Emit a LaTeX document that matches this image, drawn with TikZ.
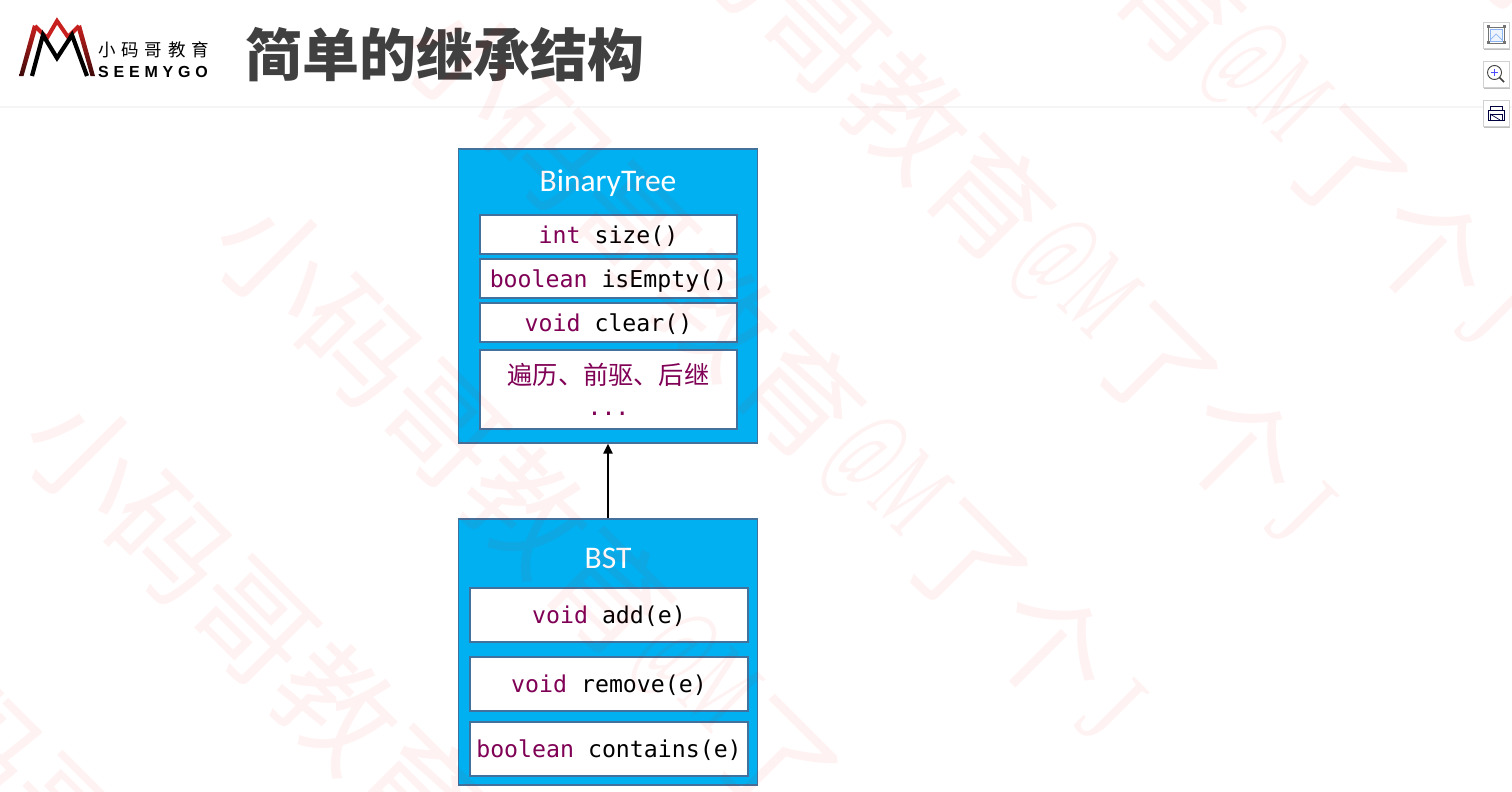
\documentclass[tikz,border=0pt]{standalone}
\usepackage{graphicx}
\usepackage{fontspec}
\usetikzlibrary{arrows.meta}
\setmainfont{Carlito}
\setmonofont{DejaVu Sans Mono}
\newfontfamily\cjk{Noto Sans CJK SC}
\newfontfamily\logocjk[LetterSpace=33]{Noto Sans CJK SC}
\newfontfamily\logolat[LetterSpace=30]{Liberation Sans}
\newfontfamily\wmlat{Liberation Serif}
\definecolor{boxblue}{HTML}{00B0F0}
\definecolor{boxline}{HTML}{41719C}
\definecolor{kwpurple}{HTML}{7F0055}
\definecolor{titlegray}{HTML}{404040}
\definecolor{logored}{HTML}{C8201E}
\definecolor{iconblue}{HTML}{8DB4F2}
\newcommand{\kw}[1]{\textcolor{kwpurple}{#1}}
\newcommand{\wmchar}[3]{\makebox[.5em]{\raisebox{#3}{\scalebox{#1}[1]{\wmlat\fontsize{118}{118}\selectfont #2}}}}
\newcommand{\wmtext}{\fontsize{118}{118}\cjk 小码哥教育\wmchar{.5}{@}{18pt}\wmchar{.5}{M}{16pt}了个\wmchar{.75}{J}{5pt}}
\tikzset{
  outerbox/.style={draw=boxline, fill=boxblue, line width=1.2pt, minimum width=299pt, inner sep=0pt},
  methodbox/.style={draw=boxline, fill=white, line width=1.2pt, inner sep=0pt, font=\ttfamily\fontsize{23.2}{34}\selectfont, align=center},
  linebox/.style={methodbox, text height=20pt, text depth=3pt},
  boxtitle/.style={text=white, inner sep=0pt, font=\fontsize{31.5}{36}\selectfont},
  iconbox/.style={draw=black!18, fill=white, line width=.8pt, minimum size=26pt, inner sep=0pt},
  watermark/.style={anchor=west, rotate=-45, inner sep=0pt, text=red, text opacity=.05},
}
\begin{document}
\begin{tikzpicture}[x=1pt,y=-1pt]
  \useasboundingbox (0,0) rectangle (1512,792);

  % header
  \draw [black!4, line width=2.5pt] (0,107) -- (1512,107);
  \node [inner sep=0pt, text=titlegray] (pageTitle) at (445,55) {\cjk\fontsize{57}{60}\selectfont\bfseries 简单的继承结构};

  % logo
  \draw [logored, line width=4pt, line join=miter] (35,26) -- (47,38) -- (57,21) -- (68,37) -- (79,26);
  \shade [top color=logored, bottom color=black!70!logored] (33,25) -- (37.5,27) -- (23.5,76) -- (19,76) -- cycle;
  \shade [top color=logored, bottom color=black!70!logored] (81,25) -- (76.5,27) -- (90.5,76) -- (95,76) -- cycle;
  \draw [black, line width=4.2pt, line join=miter] (32,76) -- (43,35) -- (57,58) -- (72,35) -- (87,76);
  \node [inner sep=0pt, anchor=west, text=black] (logoCn) at (98,50) {\logocjk\fontsize{17.5}{20}\selectfont 小码哥教育};
  \node [inner sep=0pt, anchor=west, text=black] (logoEn) at (98,72) {\logolat\fontsize{16}{18}\selectfont\bfseries SEEMYGO};

  % side buttons
  \fill [black!25] (1484,24) rectangle (1510,50);
  \fill [black!25] (1484,63) rectangle (1510,89);
  \fill [black!25] (1484,102) rectangle (1510,128);
  \node [iconbox] (fitButton) at (1496,35) {};
  \node [iconbox] (zoomButton) at (1496,74) {};
  \node [iconbox] (printButton) at (1496,113) {};
  \draw [black!55, line width=.8pt] (1488,27) rectangle (1504,43);
  \foreach \px/\py in {1488/27, 1504/27, 1488/43, 1504/43} \fill [black!55] (\px-1.5,\py-1.5) rectangle (\px+1.5,\py+1.5);
  \draw [iconblue, line width=.8pt, fill=iconblue!15] (1490,29) rectangle (1502,41);
  \draw [iconblue, line width=.7pt] (1490,40) -- (1496,34) -- (1502,40);
  \draw [black!75, line width=.9pt] (1494.5,72.5) circle (7);
  \draw [black!75, line width=1.6pt] (1499.5,77.5) -- (1504,82);
  \draw [blue!70!white, line width=.9pt] (1491,72.5) -- (1498,72.5) (1494.5,69) -- (1494.5,76);
  \draw [black!75!blue, line width=1pt] (1490,111) rectangle (1502,106);
  \draw [black!75!blue, line width=1pt, fill=white] (1488,110) rectangle (1504,120);
  \draw [black!75!blue, line width=.8pt] (1490,114) rectangle (1502,120);
  \draw [black!75!blue, line width=.7pt] (1490,114) -- (1500,120);

  % BinaryTree
  \node [outerbox, minimum height=294pt] (treeBox) at (608,296) {};
  \node [boxtitle] (treeTitle) at (608,183) {BinaryTree};
  \node [linebox, minimum width=257pt, minimum height=39pt] (sizeBox) at (608.5,234.5) {\kw{int} size()};
  \node [linebox, minimum width=257pt, minimum height=39pt] (emptyBox) at (608.5,278.5) {\kw{boolean} isEmpty()};
  \node [linebox, minimum width=257pt, minimum height=39pt] (clearBox) at (608.5,322.5) {\kw{void} clear()};
  \node [methodbox, minimum width=257pt, minimum height=79pt] (walkBox) at (608.5,389.5) {\kw{{\cjk\fontsize{25.2}{34}\selectfont 遍历、前驱、后继}}\\[-3pt]\kw{...}};

  % BST
  \node [outerbox, minimum height=266pt] (bstBox) at (608,652) {};
  \node [boxtitle] (bstTitle) at (608,558) {BST};
  \node [linebox, minimum width=278pt, minimum height=54pt] (addBox) at (609,615) {\kw{void} add(e)};
  \node [linebox, minimum width=278pt, minimum height=54pt] (removeBox) at (609,684) {\kw{void} remove(e)};
  \node [linebox, minimum width=278pt, minimum height=54pt] (containsBox) at (609,749) {\kw{boolean} contains(e)};

  \draw [-{Triangle[length=10pt,width=9pt]}, line width=2.2pt] (bstBox.north) -- (treeBox.south);

  % watermark rows
  \foreach \k in {-1,...,5}
    \node [watermark] (mark\k) at (45+190*\k,414-197*\k) {\wmtext};
\end{tikzpicture}
\end{document}
